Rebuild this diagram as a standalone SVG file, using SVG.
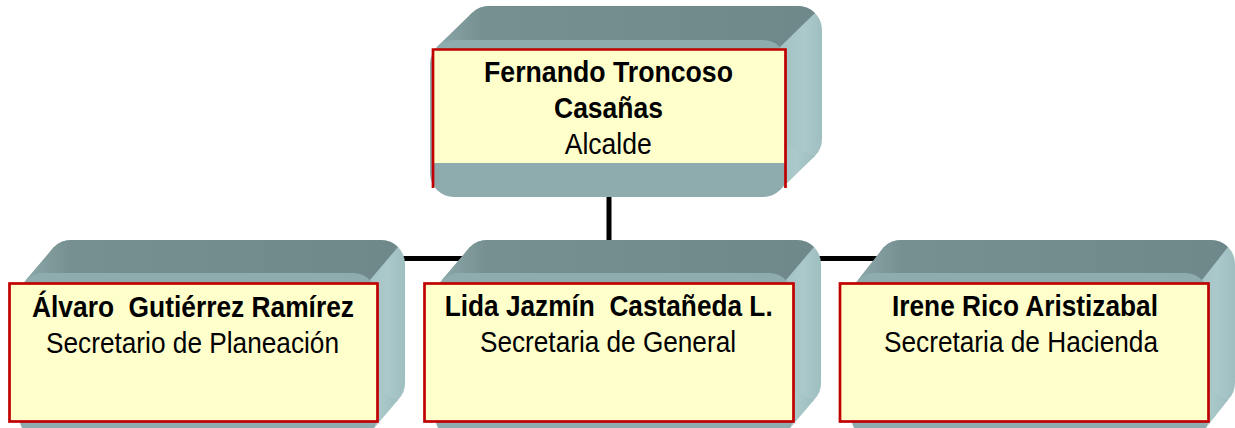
<svg xmlns="http://www.w3.org/2000/svg" width="1235" height="428" viewBox="0 0 1235 428">
<style>
.side{fill:url(#gSide)}
.top{fill:url(#gTop)}
.front{fill:#8eabad}
.face{fill:#ffffcc;stroke:#c00000;stroke-width:2.7}
.conn{stroke:#000;stroke-width:5;fill:none}
text{font-family:"Liberation Sans",Arial,sans-serif;font-size:29px;fill:#000;text-anchor:middle;white-space:pre}
.b{font-weight:bold}
</style>
<defs>
<linearGradient id="gSide" x1="0" y1="0" x2="1" y2="0">
<stop offset="0" stop-color="#8eabad"/>
<stop offset="0.86" stop-color="#a0bfc0"/>
<stop offset="0.95" stop-color="#abc9ca"/>
<stop offset="1" stop-color="#9fbec0"/>
</linearGradient>
<linearGradient id="gTop" x1="0" y1="0" x2="1" y2="0">
<stop offset="0" stop-color="#8ca7a9"/>
<stop offset="0.12" stop-color="#768f91"/>
<stop offset="1" stop-color="#6f888a"/>
</linearGradient>
</defs>

<g id="connectors">
<line class="conn" x1="609" y1="190" x2="609" y2="250"/>
<line class="conn" x1="380" y1="258.5" x2="900" y2="258.5"/>
</g>

<g id="node-alcalde">
<rect class="side" x="465" y="6" width="357" height="157" rx="24"/>
<polygon class="side" points="437.03,47.03 472.03,13.03 814.97,155.97 779.97,189.97"/>
<path class="top" d="M437.03,47.03 L472.03,13.03 A24,24 0 0 1 489,6 L798,6 A24,24 0 0 1 814.97,13.03 L779.97,47.03 Z"/>
<rect class="front" x="430" y="40" width="357" height="157" rx="24"/>
<rect x="432" y="49" width="354" height="114" fill="#ffffcc"/>
<path d="M433,188 V49.5 H785.5 V188" fill="none" stroke="#c00000" stroke-width="2.7"/>
<text class="b" x="608.5" y="82" textLength="249" lengthAdjust="spacingAndGlyphs">Fernando Troncoso</text>
<text class="b" x="608.5" y="118" textLength="109" lengthAdjust="spacingAndGlyphs">Casañas</text>
<text x="608.2" y="153.5" textLength="87" lengthAdjust="spacingAndGlyphs">Alcalde</text>
</g>

<g id="node-planeacion">
<rect class="side" x="47" y="240" width="358" height="167" rx="24"/>
<polygon class="side" points="26.03,280.03 54.03,247.03 397.97,399.97 369.97,432.97"/>
<path class="top" d="M26.03,280.03 L54.03,247.03 A24,24 0 0 1 71,240 L381,240 A24,24 0 0 1 397.97,247.03 L369.97,280.03 Z"/>
<rect class="front" x="19" y="273" width="358" height="167" rx="24"/>
<rect class="face" x="9.5" y="283.5" width="368" height="138"/>
<text class="b" x="193" y="317" textLength="322" lengthAdjust="spacingAndGlyphs">Álvaro  Gutiérrez Ramírez</text>
<text x="192.5" y="353" textLength="293" lengthAdjust="spacingAndGlyphs">Secretario de Planeación</text>
</g>

<g id="node-general">
<rect class="side" x="463" y="240" width="358" height="167" rx="24"/>
<polygon class="side" points="442.03,280.03 470.03,247.03 813.97,399.97 785.97,432.97"/>
<path class="top" d="M442.03,280.03 L470.03,247.03 A24,24 0 0 1 487,240 L797,240 A24,24 0 0 1 813.97,247.03 L785.97,280.03 Z"/>
<rect class="front" x="435" y="273" width="358" height="167" rx="24"/>
<rect class="face" x="424.5" y="283.5" width="369" height="138"/>
<text class="b" x="608.7" y="316" textLength="328" lengthAdjust="spacingAndGlyphs">Lida Jazmín  Castañeda L.</text>
<text x="608" y="352" textLength="256" lengthAdjust="spacingAndGlyphs">Secretaria de General</text>
</g>

<g id="node-hacienda">
<rect class="side" x="877" y="240" width="358" height="167" rx="24"/>
<polygon class="side" points="858.03,280.03 884.03,247.03 1227.97,399.97 1201.97,432.97"/>
<path class="top" d="M858.03,280.03 L884.03,247.03 A24,24 0 0 1 901,240 L1211,240 A24,24 0 0 1 1227.97,247.03 L1201.97,280.03 Z"/>
<rect class="front" x="851" y="273" width="358" height="167" rx="24"/>
<rect class="face" x="840" y="283.5" width="368.5" height="138"/>
<text class="b" x="1025" y="315.5" textLength="266" lengthAdjust="spacingAndGlyphs">Irene Rico Aristizabal</text>
<text x="1021" y="352" textLength="274" lengthAdjust="spacingAndGlyphs">Secretaria de Hacienda</text>
</g>
</svg>
